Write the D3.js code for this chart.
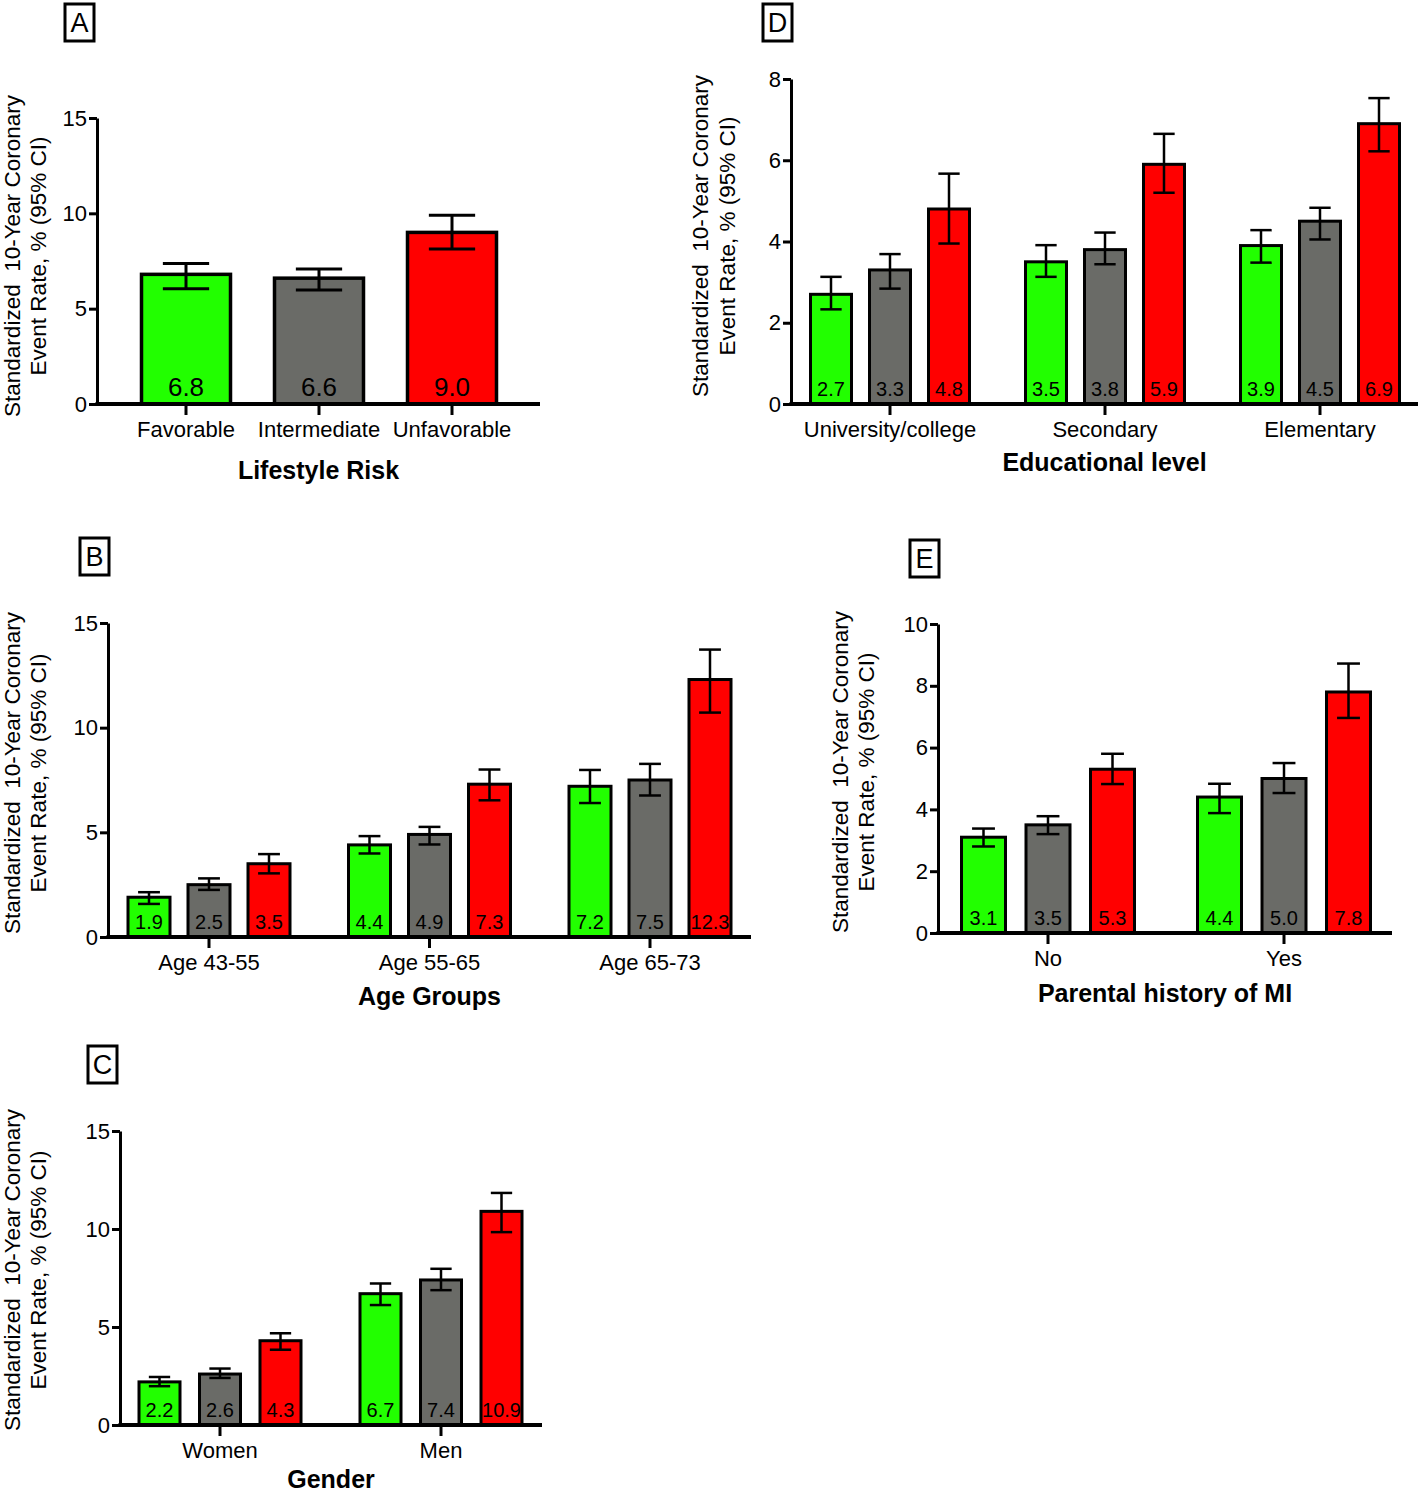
<!DOCTYPE html>
<html>
<head>
<meta charset="utf-8">
<script src="https://cdn.jsdelivr.net/npm/d3@7"></script>
<style>
  body { margin: 0; background: #fff; }
  svg { display: block; font-family: "Liberation Sans", Arial, Helvetica, sans-serif; }
</style>
</head>
<body>
<div class="chart"></div>
<script>
// favorable / intermediate / unfavorable
var riskColors = ["#22ff00", "#6a6b67", "#ff0000"];

var yTitle1 = "Standardized\u00a0\u00a010-Year Coronary";
var yTitle2 = "Event Rate, % (95% CI)";

// A - lifestyle risk
var lifestyleCats = ["Favorable", "Intermediate", "Unfavorable"];
var lifestyleVals = [6.8, 6.6, 9.0];
var lifestyleLo = [6.05, 5.98, 8.13];
var lifestyleHi = [7.37, 7.08, 9.9];

// D - educational level
var eduGroups = ["University/college", "Secondary", "Elementary"];
var eduVals = [[2.7, 3.3, 4.8], [3.5, 3.8, 5.9], [3.9, 4.5, 6.9]];
var eduLo = [[2.33, 2.84, 3.95], [3.13, 3.44, 5.2], [3.48, 4.05, 6.22]];
var eduHi = [[3.13, 3.69, 5.67], [3.91, 4.22, 6.65], [4.28, 4.83, 7.53]];

// B - age groups
var ageGroups = ["Age 43-55", "Age 55-65", "Age 65-73"];
var ageVals = [[1.9, 2.5, 3.5], [4.4, 4.9, 7.3], [7.2, 7.5, 12.3]];
var ageLo = [[1.58, 2.25, 3.04], [3.99, 4.42, 6.53], [6.4, 6.76, 10.72]];
var ageHi = [[2.14, 2.8, 3.96], [4.82, 5.26, 8.0], [7.98, 8.27, 13.73]];

// E - parental history of MI
var parentGroups = ["No", "Yes"];
var parentVals = [[3.1, 3.5, 5.3], [4.4, 5.0, 7.8]];
var parentLo = [[2.8, 3.2, 4.82], [3.88, 4.53, 6.96]];
var parentHi = [[3.38, 3.78, 5.8], [4.83, 5.5, 8.72]];

// C - gender
var genderGroups = ["Women", "Men"];
var genderVals = [[2.2, 2.6, 4.3], [6.7, 7.4, 10.9]];
var genderLo = [[1.98, 2.4, 3.84], [6.12, 6.88, 9.84]];
var genderHi = [[2.45, 2.88, 4.68], [7.22, 7.97, 11.84]];

var svg = d3.select(".chart").append("svg")
    .attr("width", 1418)
    .attr("height", 1493);

var panels = [
  { letter: "A", box: [65, 4], groups: lifestyleCats,
    vals: lifestyleVals.map(function(v) { return [v]; }),
    lo: lifestyleLo.map(function(v) { return [v]; }),
    hi: lifestyleHi.map(function(v) { return [v]; }),
    single: true, left: 97, right: 540, top: 118, bottom: 404, yMax: 15, yTicks: [0, 5, 10, 15],
    c0: 186, gs: 133, bs: 133, bw: 89, valueFont: 26, title: "Lifestyle Risk", titleY: 470,
    yTitleX: [12, 38], yTitleY: 256 },
  { letter: "D", box: [763, 4], groups: eduGroups, vals: eduVals, lo: eduLo, hi: eduHi,
    left: 791, right: 1418, top: 79, bottom: 404, yMax: 8, yTicks: [0, 2, 4, 6, 8],
    c0: 890, gs: 215, bs: 59, bw: 41, valueFont: 20, title: "Educational level", titleY: 462,
    yTitleX: [700, 727], yTitleY: 236 },
  { letter: "B", box: [80, 538], groups: ageGroups, vals: ageVals, lo: ageLo, hi: ageHi,
    left: 108, right: 751, top: 623, bottom: 937, yMax: 15, yTicks: [0, 5, 10, 15],
    c0: 209, gs: 220.5, bs: 60, bw: 42, valueFont: 20, title: "Age Groups", titleY: 996,
    yTitleX: [12, 38], yTitleY: 773 },
  { letter: "E", box: [910, 540], groups: parentGroups, vals: parentVals, lo: parentLo, hi: parentHi,
    left: 938, right: 1392, top: 624, bottom: 933, yMax: 10, yTicks: [0, 2, 4, 6, 8, 10],
    c0: 1048, gs: 236, bs: 64.5, bw: 44, valueFont: 20, title: "Parental history of MI", titleY: 993,
    yTitleX: [840, 866], yTitleY: 772 },
  { letter: "C", box: [88, 1046], groups: genderGroups, vals: genderVals, lo: genderLo, hi: genderHi,
    left: 120, right: 542, top: 1131, bottom: 1425, yMax: 15, yTicks: [0, 5, 10, 15],
    c0: 220, gs: 221, bs: 60.5, bw: 41, valueFont: 20, title: "Gender", titleY: 1479,
    yTitleX: [12, 38], yTitleY: 1270 }
];

panels.forEach(drawPanel);

function drawPanel(p) {
  var g = svg.append("g");
  var n = p.groups.length;
  var nb = p.vals[0].length;

  var x0 = d3.scaleBand()
      .domain(p.groups)
      .range([p.c0 - p.gs / 2, p.c0 + p.gs * (n - 0.5)]);

  var pad = 1 - p.bw / p.bs;
  var x1 = d3.scaleBand()
      .domain(d3.range(nb))
      .range([p.gs / 2 - nb * p.bs / 2, p.gs / 2 + nb * p.bs / 2])
      .paddingInner(pad)
      .paddingOuter(pad / 2);

  var y = d3.scaleLinear().domain([0, p.yMax]).range([p.bottom, p.top]);

  var bars = [];
  p.groups.forEach(function(name, gi) {
    p.vals[gi].forEach(function(v, bi) {
      bars.push({ group: name, idx: bi, v: v, lo: p.lo[gi][bi], hi: p.hi[gi][bi],
                  color: riskColors[p.single ? gi : bi] });
    });
  });

  var bx = function(d) { return x0(d.group) + x1(d.idx); };
  var bcx = function(d) { return bx(d) + x1.bandwidth() / 2; };

  g.selectAll(".bar").data(bars).enter().append("rect")
      .attr("class", "bar")
      .attr("x", bx)
      .attr("y", function(d) { return y(d.v); })
      .attr("width", x1.bandwidth())
      .attr("height", function(d) { return y(0) - y(d.v); })
      .attr("fill", function(d) { return d.color; })
      .attr("stroke", "#000")
      .attr("stroke-width", p.single ? 3.5 : 3);

  // error bars
  var capW = x1.bandwidth() * 0.26;
  var err = g.selectAll(".err").data(bars).enter().append("g")
      .attr("class", "err")
      .attr("stroke", "#000")
      .attr("stroke-width", p.single ? 3 : 2.5);
  err.append("line")
      .attr("x1", bcx).attr("x2", bcx)
      .attr("y1", function(d) { return y(d.lo); })
      .attr("y2", function(d) { return y(d.hi); });
  err.append("line")
      .attr("x1", function(d) { return bcx(d) - capW; })
      .attr("x2", function(d) { return bcx(d) + capW; })
      .attr("y1", function(d) { return y(d.hi); })
      .attr("y2", function(d) { return y(d.hi); });
  err.append("line")
      .attr("x1", function(d) { return bcx(d) - capW; })
      .attr("x2", function(d) { return bcx(d) + capW; })
      .attr("y1", function(d) { return y(d.lo); })
      .attr("y2", function(d) { return y(d.lo); });

  // value labels inside bars
  g.selectAll(".val").data(bars).enter().append("text")
      .attr("class", "val")
      .attr("x", bcx)
      .attr("y", p.bottom - 8)
      .attr("text-anchor", "middle")
      .attr("font-size", p.valueFont)
      .attr("fill", "#000")
      .text(function(d) { return d.v.toFixed(1); });

  // y axis
  var yAxis = g.append("g")
      .attr("transform", "translate(" + p.left + ",0)")
      .call(d3.axisLeft(y).tickValues(p.yTicks).tickSize(8).tickSizeOuter(0).tickPadding(2));
  yAxis.select(".domain").attr("stroke-width", 3);
  yAxis.selectAll(".tick line").attr("stroke-width", 3);
  yAxis.selectAll("text").attr("font-size", 22).attr("fill", "#000")
      .attr("font-family", "Liberation Sans, Arial, sans-serif");

  // x axis
  var xAxis = g.append("g")
      .attr("transform", "translate(0," + p.bottom + ")")
      .call(d3.axisBottom(x0).tickSize(11).tickSizeOuter(0).tickPadding(6));
  xAxis.select(".domain").remove();
  xAxis.selectAll(".tick line").attr("stroke-width", 3);
  xAxis.selectAll("text").attr("font-size", 22).attr("fill", "#000")
      .attr("font-family", "Liberation Sans, Arial, sans-serif");
  g.append("line")
      .attr("x1", p.left - 1.5).attr("x2", p.right)
      .attr("y1", p.bottom).attr("y2", p.bottom)
      .attr("stroke", "#000")
      .attr("stroke-width", 4);

  // axis title
  g.append("text")
      .attr("x", (p.left + p.right) / 2)
      .attr("y", p.titleY)
      .attr("dy", "0.35em")
      .attr("text-anchor", "middle")
      .attr("font-size", 25)
      .attr("font-weight", "bold")
      .text(p.title);

  [yTitle1, yTitle2].forEach(function(t, i) {
    g.append("text")
        .attr("transform", "translate(" + p.yTitleX[i] + "," + p.yTitleY + ") rotate(-90)")
        .attr("dy", "0.35em")
        .attr("text-anchor", "middle")
        .attr("font-size", 22.5)
        .text(t);
  });

  // panel letter box
  g.append("rect")
      .attr("x", p.box[0]).attr("y", p.box[1])
      .attr("width", 29).attr("height", 37)
      .attr("fill", "#fff")
      .attr("stroke", "#000")
      .attr("stroke-width", 3);
  g.append("text")
      .attr("x", p.box[0] + 14.5)
      .attr("y", p.box[1] + 18.5)
      .attr("dy", "0.36em")
      .attr("text-anchor", "middle")
      .attr("font-size", 27)
      .text(p.letter);
}
</script>
</body>
</html>
